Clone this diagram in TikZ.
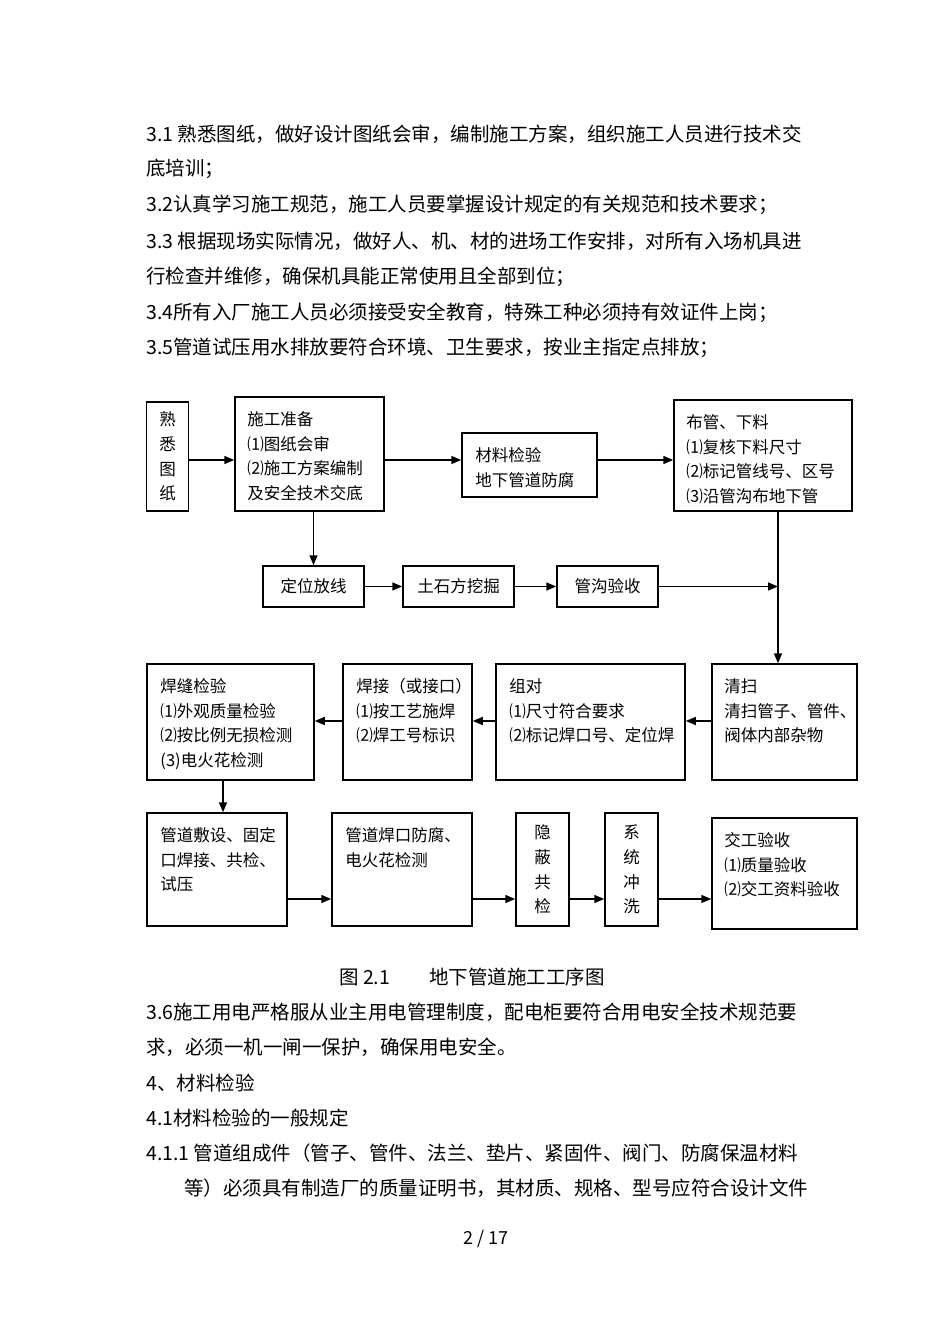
\documentclass[tikz,border=0pt]{standalone}
\usepackage{fontspec}
\setmainfont{Noto Sans CJK SC}
\usetikzlibrary{arrows.meta}
\tikzset{
    BX/.style ={rectangle, draw, line width=1.5pt, inner sep=0pt},
    FT/.style ={font=\fontsize{16.5}{24.7}\selectfont, align=left, anchor=north west, inner sep=0pt},
    FV/.style ={font=\fontsize{16.5}{24.7}\selectfont, align=center},
    TX/.style ={font=\fontsize{19.5}{23}\selectfont, anchor=west, inner sep=0pt},
    AR/.style ={line width=1.6pt, -{Triangle[length=10pt,width=8pt]}}}
\begin{document}
\begin{tikzpicture}[x=1pt,y=-1pt]
        \useasboundingbox (0,0) rectangle (950,1344);
        \node[TX] (p1) at (146,134) {3.1 熟悉图纸，做好设计图纸会审，编制施工方案，组织施工人员进行技术交};
        \node[TX] (p2) at (146,169) {底培训；};
        \node[TX] (p3) at (146,205) {3.2认真学习施工规范，施工人员要掌握设计规定的有关规范和技术要求；};
        \node[TX] (p4) at (146,241) {3.3 根据现场实际情况，做好人、机、材的进场工作安排，对所有入场机具进};
        \node[TX] (p5) at (146,277) {行检查并维修，确保机具能正常使用且全部到位；};
        \node[TX] (p6) at (146,313) {3.4所有入厂施工人员必须接受安全教育，特殊工种必须持有效证件上岗；};
        \node[TX] (p7) at (146,348) {3.5管道试压用水排放要符合环境、卫生要求，按业主指定点排放；};
        \node[BX,FV, minimum width=42pt, minimum height=109pt] (1) at (167.5,456.5) {熟\\悉\\图\\纸};
        \node[BX, minimum width=149pt, minimum height=114pt] (2) at (309.5,454) {};
        \node[BX, minimum width=135pt, minimum height=64pt] (3) at (529.5,465) {};
        \node[BX, minimum width=178pt, minimum height=111pt] (4) at (763,455.5) {};
        \node[BX,FV, minimum width=101pt, minimum height=41pt] (5) at (313.5,586.5) {定位放线};
        \node[BX,FV, minimum width=111pt, minimum height=41pt] (6) at (458.5,586.5) {土石方挖掘};
        \node[BX,FV, minimum width=101pt, minimum height=41pt] (7) at (607.5,586.5) {管沟验收};
        \node[BX, minimum width=167pt, minimum height=116pt] (8) at (230.5,722) {};
        \node[BX, minimum width=129pt, minimum height=116pt] (9) at (407.5,722) {};
        \node[BX, minimum width=189pt, minimum height=116pt] (10) at (590.5,722) {};
        \node[BX, minimum width=145pt, minimum height=116pt] (11) at (784.5,722) {};
        \node[BX, minimum width=140pt, minimum height=113pt] (12) at (217,869.5) {};
        \node[BX, minimum width=140pt, minimum height=113pt] (13) at (402,869.5) {};
        \node[BX,FV, minimum width=53pt, minimum height=113pt] (14) at (542.5,869.5) {隐\\蔽\\共\\检};
        \node[BX,FV, minimum width=53pt, minimum height=113pt] (15) at (631.5,869.5) {系\\统\\冲\\洗};
        \node[BX, minimum width=145pt, minimum height=111pt] (16) at (784.5,873.5) {};
        \node[FT] (t2) at ([shift={(13,15)}]2.north west) {施工准备\\⑴图纸会审\\⑵施工方案编制\\及安全技术交底};
        \node[FT] (t3) at ([shift={(14,15)}]3.north west) {材料检验\\地下管道防腐};
        \node[FT] (t4) at ([shift={(13,15)}]4.north west) {布管、下料\\⑴复核下料尺寸\\⑵标记管线号、区号\\⑶沿管沟布地下管};
        \node[FT] (t8) at ([shift={(14,15)}]8.north west) {焊缝检验\\⑴外观质量检验\\⑵按比例无损检测\\(3)电火花检测};
        \node[FT] (t9) at ([shift={(14,15)}]9.north west) {焊接（或接口）\\⑴按工艺施焊\\⑵焊工号标识};
        \node[FT] (t10) at ([shift={(14,15)}]10.north west) {组对\\⑴尺寸符合要求\\⑵标记焊口号、定位焊};
        \node[FT] (t11) at ([shift={(13,15)}]11.north west) {清扫\\清扫管子、管件、\\阀体内部杂物};
        \node[FT] (t12) at ([shift={(14,15)}]12.north west) {管道敷设、固定\\口焊接、共检、\\试压};
        \node[FT] (t13) at ([shift={(14,15)}]13.north west) {管道焊口防腐、\\电火花检测};
        \node[FT] (t16) at ([shift={(13,15)}]16.north west) {交工验收\\⑴质量验收\\⑵交工资料验收};
        \coordinate (r1) at (0,460);
        \coordinate (r3) at (0,721);
        \coordinate (r4) at (0,899);
        \coordinate (v) at (778,0);
        \coordinate (w) at (223,0);
        \draw[AR] (1.east |- r1) -- (2.west |- r1);
        \draw[AR] (2.east |- r1) -- (3.west |- r1);
        \draw[AR] (3.east |- r1) -- (4.west |- r1);
        \draw[AR] (5.north |- 2.south) -- (5.north);
        \draw[AR] (5) -- (6);
        \draw[AR] (6) -- (7);
        \draw[AR] (7.east) -- (7.east -| v);
        \draw[AR] (v |- 4.south) -- (v |- 11.north);
        \draw[AR] (11.west |- r3) -- (10.east |- r3);
        \draw[AR] (10.west |- r3) -- (9.east |- r3);
        \draw[AR] (9.west |- r3) -- (8.east |- r3);
        \draw[AR] (w |- 8.south) -- (w |- 12.north);
        \draw[AR] (12.east |- r4) -- (13.west |- r4);
        \draw[AR] (13.east |- r4) -- (14.west |- r4);
        \draw[AR] (14.east |- r4) -- (15.west |- r4);
        \draw[AR] (15.east |- r4) -- (16.west |- r4);
        \node[TX, anchor=center] (cap) at (472,977) {图 2.1\quad\quad 地下管道施工工序图};
        \node[TX] (p8) at (146,1012) {3.6施工用电严格服从业主用电管理制度，配电柜要符合用电安全技术规范要};
        \node[TX] (p9) at (146,1047) {求，必须一机一闸一保护，确保用电安全。};
        \node[TX] (p10) at (146,1083) {4、材料检验};
        \node[TX] (p11) at (146,1118) {4.1材料检验的一般规定};
        \node[TX] (p12) at (146,1153) {4.1.1 管道组成件（管子、管件、法兰、垫片、紧固件、阀门、防腐保温材料};
        \node[TX] (p13) at (184,1188) {等）必须具有制造厂的质量证明书，其材质、规格、型号应符合设计文件};
        \node[TX, anchor=center, font=\fontsize{18}{21}\selectfont] (pg) at (486,1239) {2\ /\ 17};
    \end{tikzpicture}
\end{document}
